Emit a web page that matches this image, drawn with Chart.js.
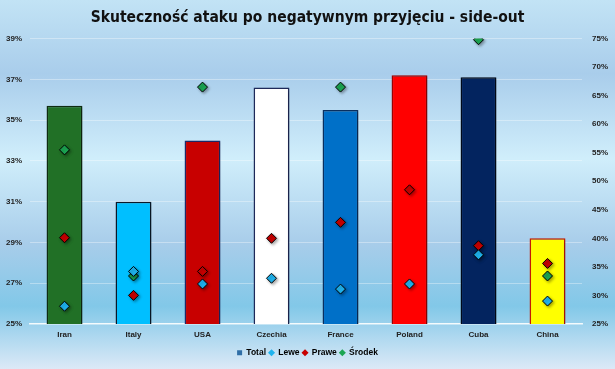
<!DOCTYPE html>
<html>
<head>
<meta charset="utf-8">
<script src="https://cdn.jsdelivr.net/npm/chart.js@4"></script>
<style>
  html, body { margin: 0; padding: 0; }
  body {
    width: 615px; height: 369px; overflow: hidden;
    background: linear-gradient(to bottom, #C2E3F5 0%, #A9CDEB 20%, #D0EEFB 43%, #A8CDEA 66%, #82C8E8 83%, #DCE9F7 100%);
  }
  .chart-container { position: relative; width: 615px; height: 369px; }
</style>
</head>
<body>
<div class="chart-container"><canvas id="myChart"></canvas></div>
<script>
const categories = ['Iran', 'Italy', 'USA', 'Czechia', 'France', 'Poland', 'Cuba', 'China'];
const total = [35.7, 31.0, 34.0, 36.6, 35.5, 37.2, 37.1, 29.2];
const lewe = [28.1, 34.2, 32.0, 33.0, 31.1, 32.0, 37.1, 29.0];
const prawe = [40.1, 30.0, 34.2, 40.0, 42.8, 48.5, 38.7, 35.6];
const srodek = [55.5, 33.4, 66.5, null, 66.5, null, 74.8, 33.4];

const barColors = ['#217026', '#00BFFF', '#C80000', '#FFFFFF', '#0070C8', '#FF0000', '#03245F', '#FFFF00'];
const barBorders = ['#0F2D12', '#0A1A2A', '#1F2A6B', '#1F2A5A', '#0A3060', '#A00000', '#000A1A', '#C81A00'];

const tickFont = { family: 'Liberation Sans', size: 8, weight: 'bold' };

const pointSet = (label, data, color) => ({
  type: 'line',
  label: label,
  data: data,
  yAxisID: 'y2',
  showLine: false,
  order: 0,
  pointStyle: 'rectRot',
  pointRadius: 5,
  pointHoverRadius: 5,
  backgroundColor: color,
  borderColor: '#000000',
  pointBorderWidth: 1
});

// soft drop shadow under bars and diamonds
const shadowPlugin = {
  id: 'shadow',
  beforeDatasetDraw(chart) {
    const c = chart.ctx;
    c.save();
    c.shadowColor = 'rgba(0,0,0,0.35)';
    c.shadowBlur = 3;
    c.shadowOffsetX = 1.5;
    c.shadowOffsetY = 1.5;
  },
  afterDatasetDraw(chart) {
    chart.ctx.restore();
  }
};

const ctx = document.getElementById('myChart');
new Chart(ctx, {
  type: 'bar',
  data: {
    labels: categories,
    datasets: [
      pointSet('Lewe', lewe, '#1FB3EE'),
      pointSet('Prawe', prawe, '#C80000'),
      pointSet('Środek', srodek, '#1BA552'),
      {
        label: 'Total',
        data: total,
        yAxisID: 'y',
        order: 1,
        backgroundColor: barColors,
        borderColor: barBorders,
        borderWidth: 1.5,
        barPercentage: 0.52,
        categoryPercentage: 1
      }
    ]
  },
  plugins: [shadowPlugin],
  options: {
    responsive: true,
    maintainAspectRatio: false,
    animation: false,
    layout: { padding: { left: 0, right: 0, top: 0, bottom: 2 } },
    plugins: {
      tooltip: { enabled: false },
      title: {
        display: true,
        text: 'Skuteczność ataku po negatywnym przyjęciu - side-out',
        color: '#111111',
        font: { family: 'DejaVu Sans Condensed', size: 15.5, weight: 'bold' },
        padding: { top: 9, bottom: 11 }
      },
      legend: {
        position: 'bottom',
        labels: {
          color: '#111111',
          font: { family: 'Liberation Sans', size: 8.5, weight: 'bold' },
          usePointStyle: true,
          boxWidth: 5,
          boxHeight: 5,
          padding: 3,
          generateLabels: () => [
            { text: 'Total', fillStyle: '#2F6EA6', strokeStyle: '#2F6EA6', pointStyle: 'rect', lineWidth: 0, datasetIndex: 3 },
            { text: 'Lewe', fillStyle: '#1FB3EE', strokeStyle: '#1FB3EE', pointStyle: 'rectRot', lineWidth: 0, datasetIndex: 0 },
            { text: 'Prawe', fillStyle: '#C80000', strokeStyle: '#C80000', pointStyle: 'rectRot', lineWidth: 0, datasetIndex: 1 },
            { text: 'Środek', fillStyle: '#1BA552', strokeStyle: '#1BA552', pointStyle: 'rectRot', lineWidth: 0, datasetIndex: 2 }
          ]
        }
      }
    },
    scales: {
      x: {
        grid: { display: false, drawTicks: false },
        border: { color: 'rgba(255,255,255,0.85)', width: 1.5 },
        ticks: { color: '#222222', font: tickFont, padding: 6 }
      },
      y: {
        position: 'left',
        min: 25,
        max: 39,
        afterFit: s => { s.width = 30; },
        grid: { color: 'rgba(255,255,255,0.35)', drawTicks: false },
        border: { display: false },
        ticks: { stepSize: 2, color: '#222222', font: tickFont, padding: 8, callback: v => v + '%' }
      },
      y2: {
        position: 'right',
        min: 25,
        max: 75,
        afterFit: s => { s.width = 33; },
        grid: { display: false, drawTicks: false },
        border: { display: false },
        ticks: { stepSize: 5, color: '#222222', font: tickFont, padding: 10, callback: v => v + '%' }
      }
    }
  }
});
</script>
</body>
</html>
